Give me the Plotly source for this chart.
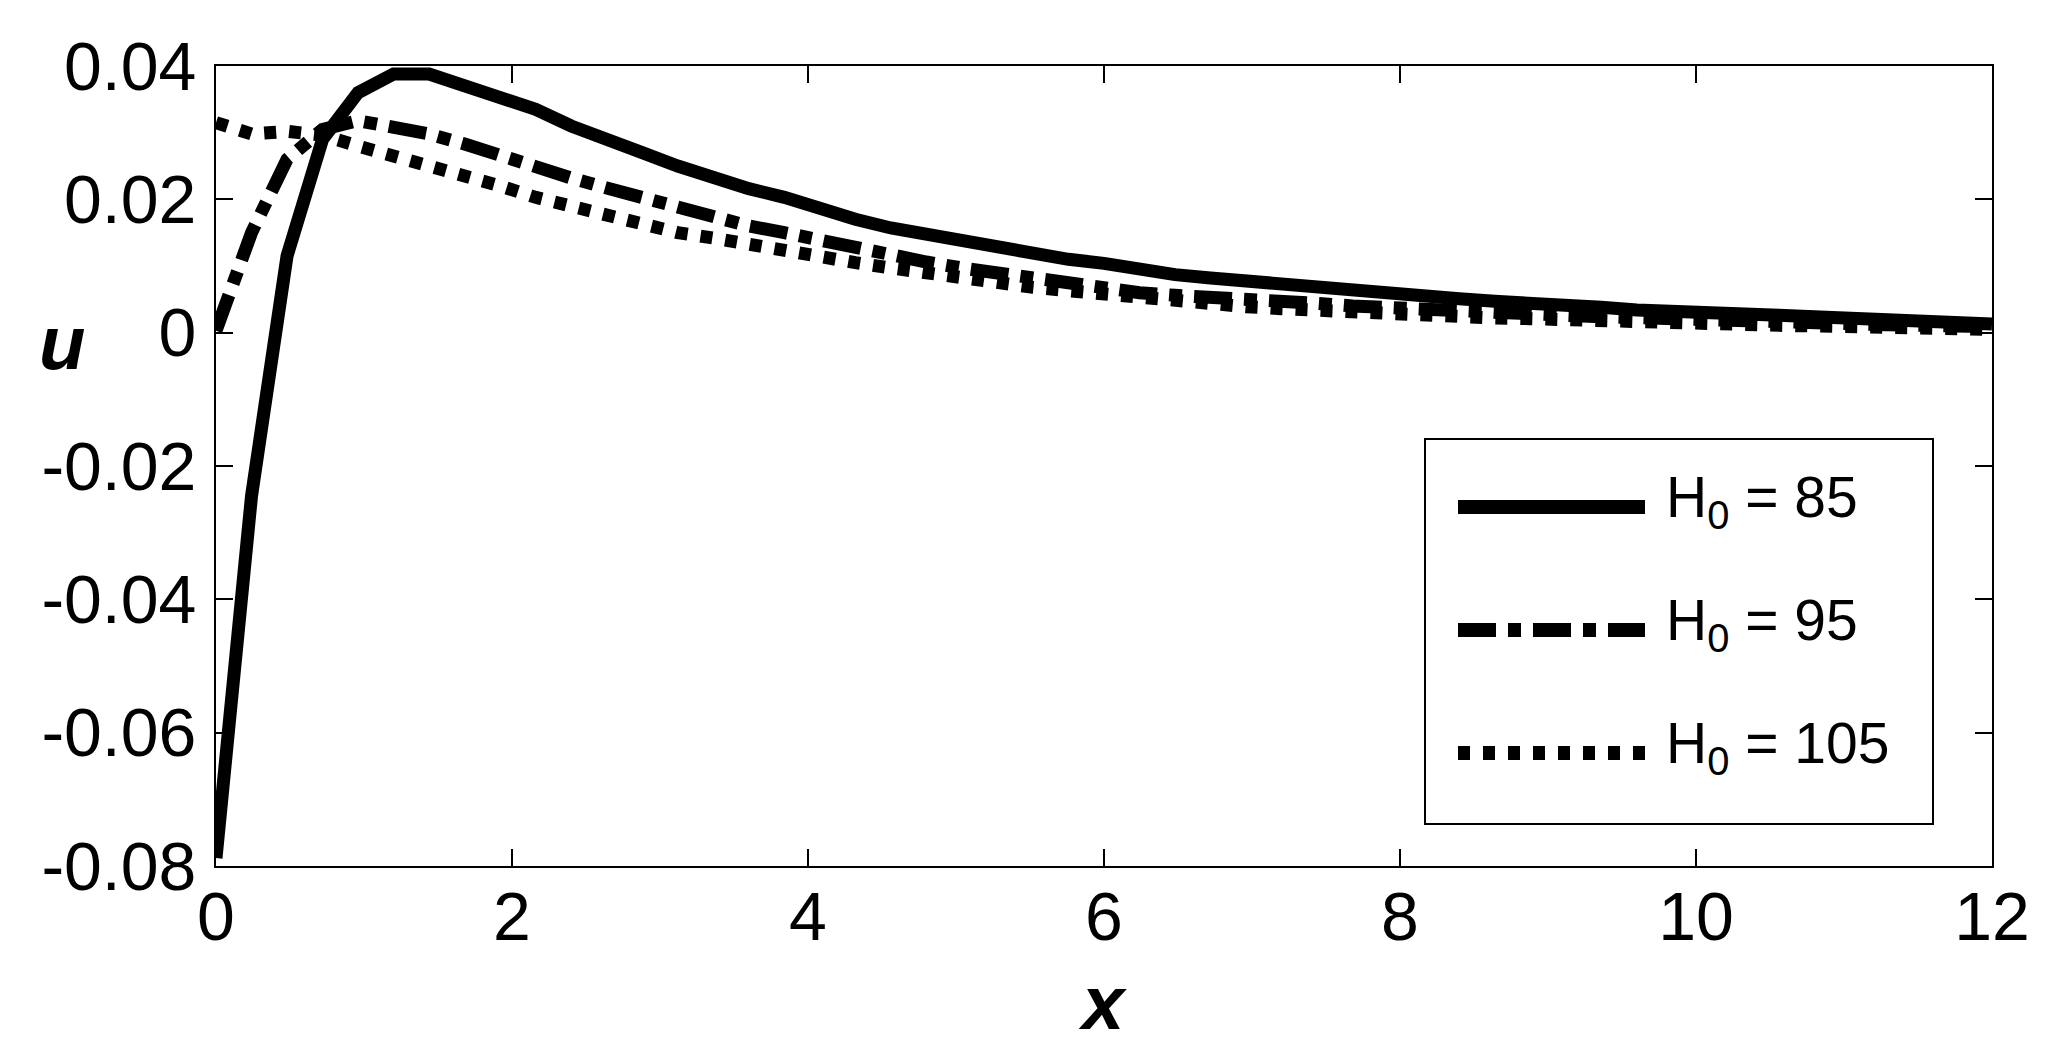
import plotly.graph_objects as go

# ---------------- data ----------------
x_vals = [0, 0.24, 0.48, 0.72, 0.96, 1.2, 1.44, 1.68, 1.92, 2.16, 2.4, 2.64, 2.88, 3.12,
          3.36, 3.6, 3.84, 4.08, 4.32, 4.56, 4.8, 5.04, 5.28, 5.52, 5.76, 6.0, 6.24, 6.48,
          6.72, 6.96, 7.2, 7.44, 7.68, 7.92, 8.16, 8.4, 8.64, 8.88, 9.12, 9.36, 9.6, 9.84,
          10.08, 10.32, 10.56, 10.8, 11.04, 11.28, 11.52, 11.76, 12.0]

u_h85 = [-0.0788, -0.0245, 0.0115, 0.0290, 0.0360, 0.0388, 0.0388, 0.0370, 0.0355, 0.0335,
         0.0310, 0.0288, 0.0270, 0.0250, 0.0232, 0.0216, 0.0203, 0.0184, 0.0170, 0.0157,
         0.0148, 0.0136, 0.0129, 0.0117, 0.0110, 0.0104, 0.0094, 0.0087, 0.0082, 0.0077,
         0.0075, 0.0070, 0.0064, 0.0058, 0.0055, 0.0051, 0.0047, 0.0045, 0.0041, 0.0038,
         0.0034, 0.0031, 0.0029, 0.0027, 0.0026, 0.0024, 0.0021, 0.0019, 0.0018, 0.0015,
         0.0013]

u_h95 = [0.0003, 0.0150, 0.0260, 0.0305, 0.0318, 0.0310, 0.0298, 0.0283, 0.0265, 0.0248,
         0.0232, 0.0217, 0.0203, 0.0185, 0.0171, 0.0160, 0.0150, 0.0138, 0.0129, 0.0117,
         0.0106, 0.0097, 0.0089, 0.0082, 0.0073, 0.0067, 0.0060, 0.0056, 0.0054, 0.0052,
         0.0048, 0.0044, 0.0040, 0.0037, 0.0035, 0.0032, 0.0030, 0.0028, 0.0026, 0.0024,
         0.0022, 0.0020, 0.0018, 0.0017, 0.0015, 0.0014, 0.0013, 0.0012, 0.0011, 0.0010,
         0.0009]

u_h105 = [0.0315, 0.0298, 0.0302, 0.0296, 0.0280, 0.0266, 0.0252, 0.0236, 0.0220, 0.0203,
          0.0189, 0.0176, 0.0163, 0.0150, 0.0142, 0.0132, 0.0124, 0.0113, 0.0105, 0.0097,
          0.0089, 0.0081, 0.0073, 0.0068, 0.0063, 0.0058, 0.0052, 0.0046, 0.0042, 0.0039,
          0.0036, 0.0033, 0.0030, 0.0028, 0.0026, 0.0024, 0.0022, 0.0021, 0.0019, 0.0018,
          0.0016, 0.0015, 0.0013, 0.0012, 0.0011, 0.0010, 0.0009, 0.0008, 0.0007, 0.0006,
          0.0005]

series_names = ["H<sub>0</sub> = 85", "H<sub>0</sub> = 95", "H<sub>0</sub> = 105"]

x_ticks = [0, 2, 4, 6, 8, 10, 12]
x_ticktext = ["0", "2", "4", "6", "8", "10", "12"]
y_ticks = [0.04, 0.02, 0, -0.02, -0.04, -0.06, -0.08]
y_ticktext = ["0.04", "0.02", "0", "-0.02", "-0.04", "-0.06", "-0.08"]

# ---------------- layout geometry ----------------
W, H = 2064, 1059
PL, PR, PT, PB = 216, 1992, 66, 866  # plot area in pixels


def px_x(p):
    return (p - PL) / (PR - PL)


def px_y(p):
    return (PB - p) / (PB - PT)


FONT = "Arial, Liberation Sans, Helvetica, sans-serif"
LW = 13
dashes = ["solid", "38px,12px,13px,12px", "12px,13px"]
series = [u_h85, u_h95, u_h105]

fig = go.Figure()
for name, ys, dash in zip(series_names, series, dashes):
    fig.add_trace(go.Scatter(x=x_vals, y=ys, mode="lines", name=name,
                             line=dict(color="black", width=LW, dash=dash),
                             showlegend=False))

axis_common = dict(showline=True, linecolor="black", linewidth=2, mirror="ticks",
                   ticks="inside", ticklen=17, tickwidth=1.5, tickcolor="black",
                   showgrid=False, zeroline=False,
                   tickfont=dict(family=FONT, size=68, color="black"))

fig.update_xaxes(range=[0, 12], tickvals=x_ticks, ticktext=x_ticktext,
                 ticklabelstandoff=-10, **axis_common)
fig.update_yaxes(range=[-0.08, 0.04], tickvals=y_ticks, ticktext=y_ticktext,
                 ticklabelstandoff=4, **axis_common)

shapes = []
annotations = []

# legend box
shapes.append(dict(type="rect", xref="paper", yref="paper",
                   x0=px_x(1425), x1=px_x(1933), y0=px_y(824), y1=px_y(439),
                   line=dict(color="black", width=2), fillcolor="white", layer="above"))
rows_y = [507, 630, 753]
for name, dash, ry in zip(series_names, dashes, rows_y):
    shapes.append(dict(type="line", xref="paper", yref="paper",
                       x0=px_x(1458), x1=px_x(1645), y0=px_y(ry), y1=px_y(ry),
                       line=dict(color="black", width=14, dash=dash), layer="above"))
    annotations.append(dict(xref="paper", yref="paper", x=px_x(1664), y=px_y(ry - 6),
                            xanchor="left", yanchor="middle", showarrow=False,
                            text=name, font=dict(family=FONT, size=57, color="black")))

# axis titles
annotations.append(dict(xref="paper", yref="paper", x=px_x(1102), y=px_y(1002),
                        xanchor="center", yanchor="middle", showarrow=False,
                        text="<b><i>x</i></b>", font=dict(family=FONT, size=76, color="black")))
annotations.append(dict(xref="paper", yref="paper", x=px_x(62), y=px_y(342),
                        xanchor="center", yanchor="middle", showarrow=False,
                        text="<b><i>u</i></b>", font=dict(family=FONT, size=76, color="black")))

fig.update_layout(width=W, height=H,
                  margin=dict(l=PL, r=W - PR, t=PT, b=H - PB, pad=0),
                  paper_bgcolor="white", plot_bgcolor="white",
                  shapes=shapes, annotations=annotations,
                  font=dict(family=FONT, color="black"))

fig.write_html("out.html", config={"displayModeBar": False},
               post_script="document.body.style.margin='0px';document.body.style.padding='0px';")
